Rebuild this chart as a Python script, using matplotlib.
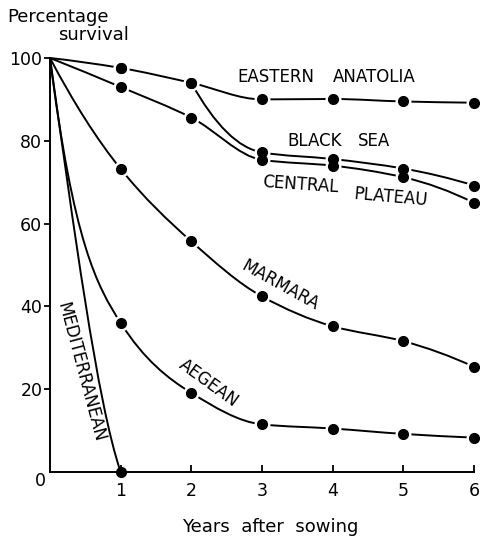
import numpy as np
import matplotlib
import matplotlib.pyplot as plt
from matplotlib.path import Path
from matplotlib.patches import PathPatch

matplotlib.use('Agg')

# Survival (%) of seedlings by region, read per year after sowing
years = [0, 1, 2, 3, 4, 5, 6]
eastern_anatolia = [100, 97.6, 94.0, 90.0, 90.1, 89.5, 89.2]
black_sea = [100, 97.6, 94.0, 77.2, 75.6, 73.3, 69.2]
central_plateau = [100, 93.0, 85.6, 75.4, 74.0, 71.2, 65.0]
marmara = [100, 73.2, 55.7, 42.4, 35.2, 31.6, 25.4]
aegean = [100, 36.0, 19.1, 11.5, 10.5, 9.2, 8.3]
med_years = [0, 1]
mediterranean = [100, 0]

x_ticks = [1, 2, 3, 4, 5, 6]
y_ticks = [20, 40, 60, 80, 100]

# hand-drawn look: end slopes of the steep first segments
lead_slope = {'aegean': -135, 'med': -122}
tail_slope = {'med': -50}

plt.rcParams['font.family'] = ['DejaVu Sans']


def tangents(x, y, lead=None, tail=None):
    x = np.asarray(x, float)
    y = np.asarray(y, float)
    d = np.diff(y) / np.diff(x)
    m = np.zeros_like(y)
    for i in range(1, len(y) - 1):
        if d[i - 1] * d[i] > 0:
            m[i] = 2.0 / (1.0 / d[i - 1] + 1.0 / d[i])
    if len(y) > 2:
        m[0] = 2 * d[0] - m[1]
        m[-1] = 2 * d[-1] - m[-2]
        if m[0] * d[0] < 0:
            m[0] = 0
        if m[-1] * d[-1] < 0:
            m[-1] = 0
    else:
        m[:] = d[0]
    if lead is not None:
        m[0] = lead
    if tail is not None:
        m[-1] = tail
    return m


def smooth_path(x, y, lead=None, tail=None):
    m = tangents(x, y, lead, tail)
    verts = [(x[0], y[0])]
    codes = [Path.MOVETO]
    for i in range(len(x) - 1):
        h = x[i + 1] - x[i]
        verts += [(x[i] + h / 3, y[i] + m[i] * h / 3),
                  (x[i + 1] - h / 3, y[i + 1] - m[i + 1] * h / 3),
                  (x[i + 1], y[i + 1])]
        codes += [Path.CURVE4] * 3
    return Path(verts, codes)


fig = plt.figure(figsize=(4.81, 5.39), dpi=100)
ax = fig.add_axes([50 / 481, 67 / 539, 424 / 481, 414 / 539])
ax.set_xlim(0, 6)
ax.set_ylim(0, 100)

# Black Sea runs with Eastern Anatolia until it branches off
branch = next(i for i in range(len(years)) if black_sea[i] != eastern_anatolia[i]) - 1

series = [
    (years, eastern_anatolia, None, None),
    (years[branch:], black_sea[branch:], None, None),
    (years, central_plateau, None, None),
    (years, marmara, None, None),
    (years, aegean, lead_slope['aegean'], None),
    (med_years, mediterranean, lead_slope['med'], tail_slope['med']),
]

for xs, ys, lead, tail in series:
    p = smooth_path(xs, ys, lead, tail)
    ax.add_patch(PathPatch(p, fill=False, lw=1.4, ec='black',
                           transform=ax.transData, clip_on=False, zorder=2,
                           capstyle='round', joinstyle='round'))

# dots with a white gap around them
for ys in [eastern_anatolia, black_sea, central_plateau, marmara, aegean]:
    ax.plot(years[1:], ys[1:], 'o', ms=10.5, color='white', clip_on=False, zorder=3)
    ax.plot(years[1:], ys[1:], 'o', ms=7, color='black', clip_on=False, zorder=4)
ax.plot(med_years[1:], mediterranean[1:], 'o', ms=7, color='black', clip_on=False, zorder=4)

# region labels
lab = dict(fontsize=12, color='black', zorder=5)
ax.text(2.65, 95.4, 'EASTERN', ha='left', va='center', **lab)
ax.text(4.0, 95.4, 'ANATOLIA', ha='left', va='center', **lab)
ax.text(3.36, 80.0, 'BLACK', ha='left', va='center', **lab)
ax.text(4.36, 80.0, 'SEA', ha='left', va='center', **lab)
ax.text(3.0, 69.3, 'CENTRAL', ha='left', va='center', rotation=-4, **lab)
ax.text(4.29, 66.3, 'PLATEAU', ha='left', va='center', rotation=-5, **lab)
ax.text(3.26, 45.0, 'MARMARA', ha='center', va='center', rotation=-29, **lab)
ax.text(2.25, 21.4, 'AEGEAN', ha='center', va='center', rotation=-36, **lab)
ax.text(0.43, 24.0, 'MEDITERRANEAN', ha='center', va='center', rotation=-75, **lab)

# axes
for s in ['top', 'right']:
    ax.spines[s].set_visible(False)
ax.spines['left'].set_bounds(0, 100)
ax.spines['bottom'].set_bounds(0, 6)
for s in ['left', 'bottom']:
    ax.spines[s].set_linewidth(1.4)

ax.set_xticks(x_ticks)
ax.set_xticklabels([str(v) for v in x_ticks])
ax.set_yticks(y_ticks)
ax.set_yticklabels([str(v) for v in y_ticks])
ax.tick_params(axis='x', direction='in', length=5, width=1.3, pad=7, labelsize=12.5)
ax.tick_params(axis='y', direction='out', length=4.5, width=1.3, pad=1, labelsize=12.5)
ax.text(-0.14, -2.2, '0', ha='center', va='center', fontsize=12.5, clip_on=False)

fig.text(7 / 481, 1 - 17 / 539, 'Percentage', ha='left', va='center', fontsize=13)
fig.text(58 / 481, 1 - 35 / 539, 'survival', ha='left', va='center', fontsize=13)
fig.text(270 / 481, 1 - 527 / 539, 'Years  after  sowing', ha='center', va='center', fontsize=13)

fig.savefig('out.png', dpi=100)
plt.close(fig)
